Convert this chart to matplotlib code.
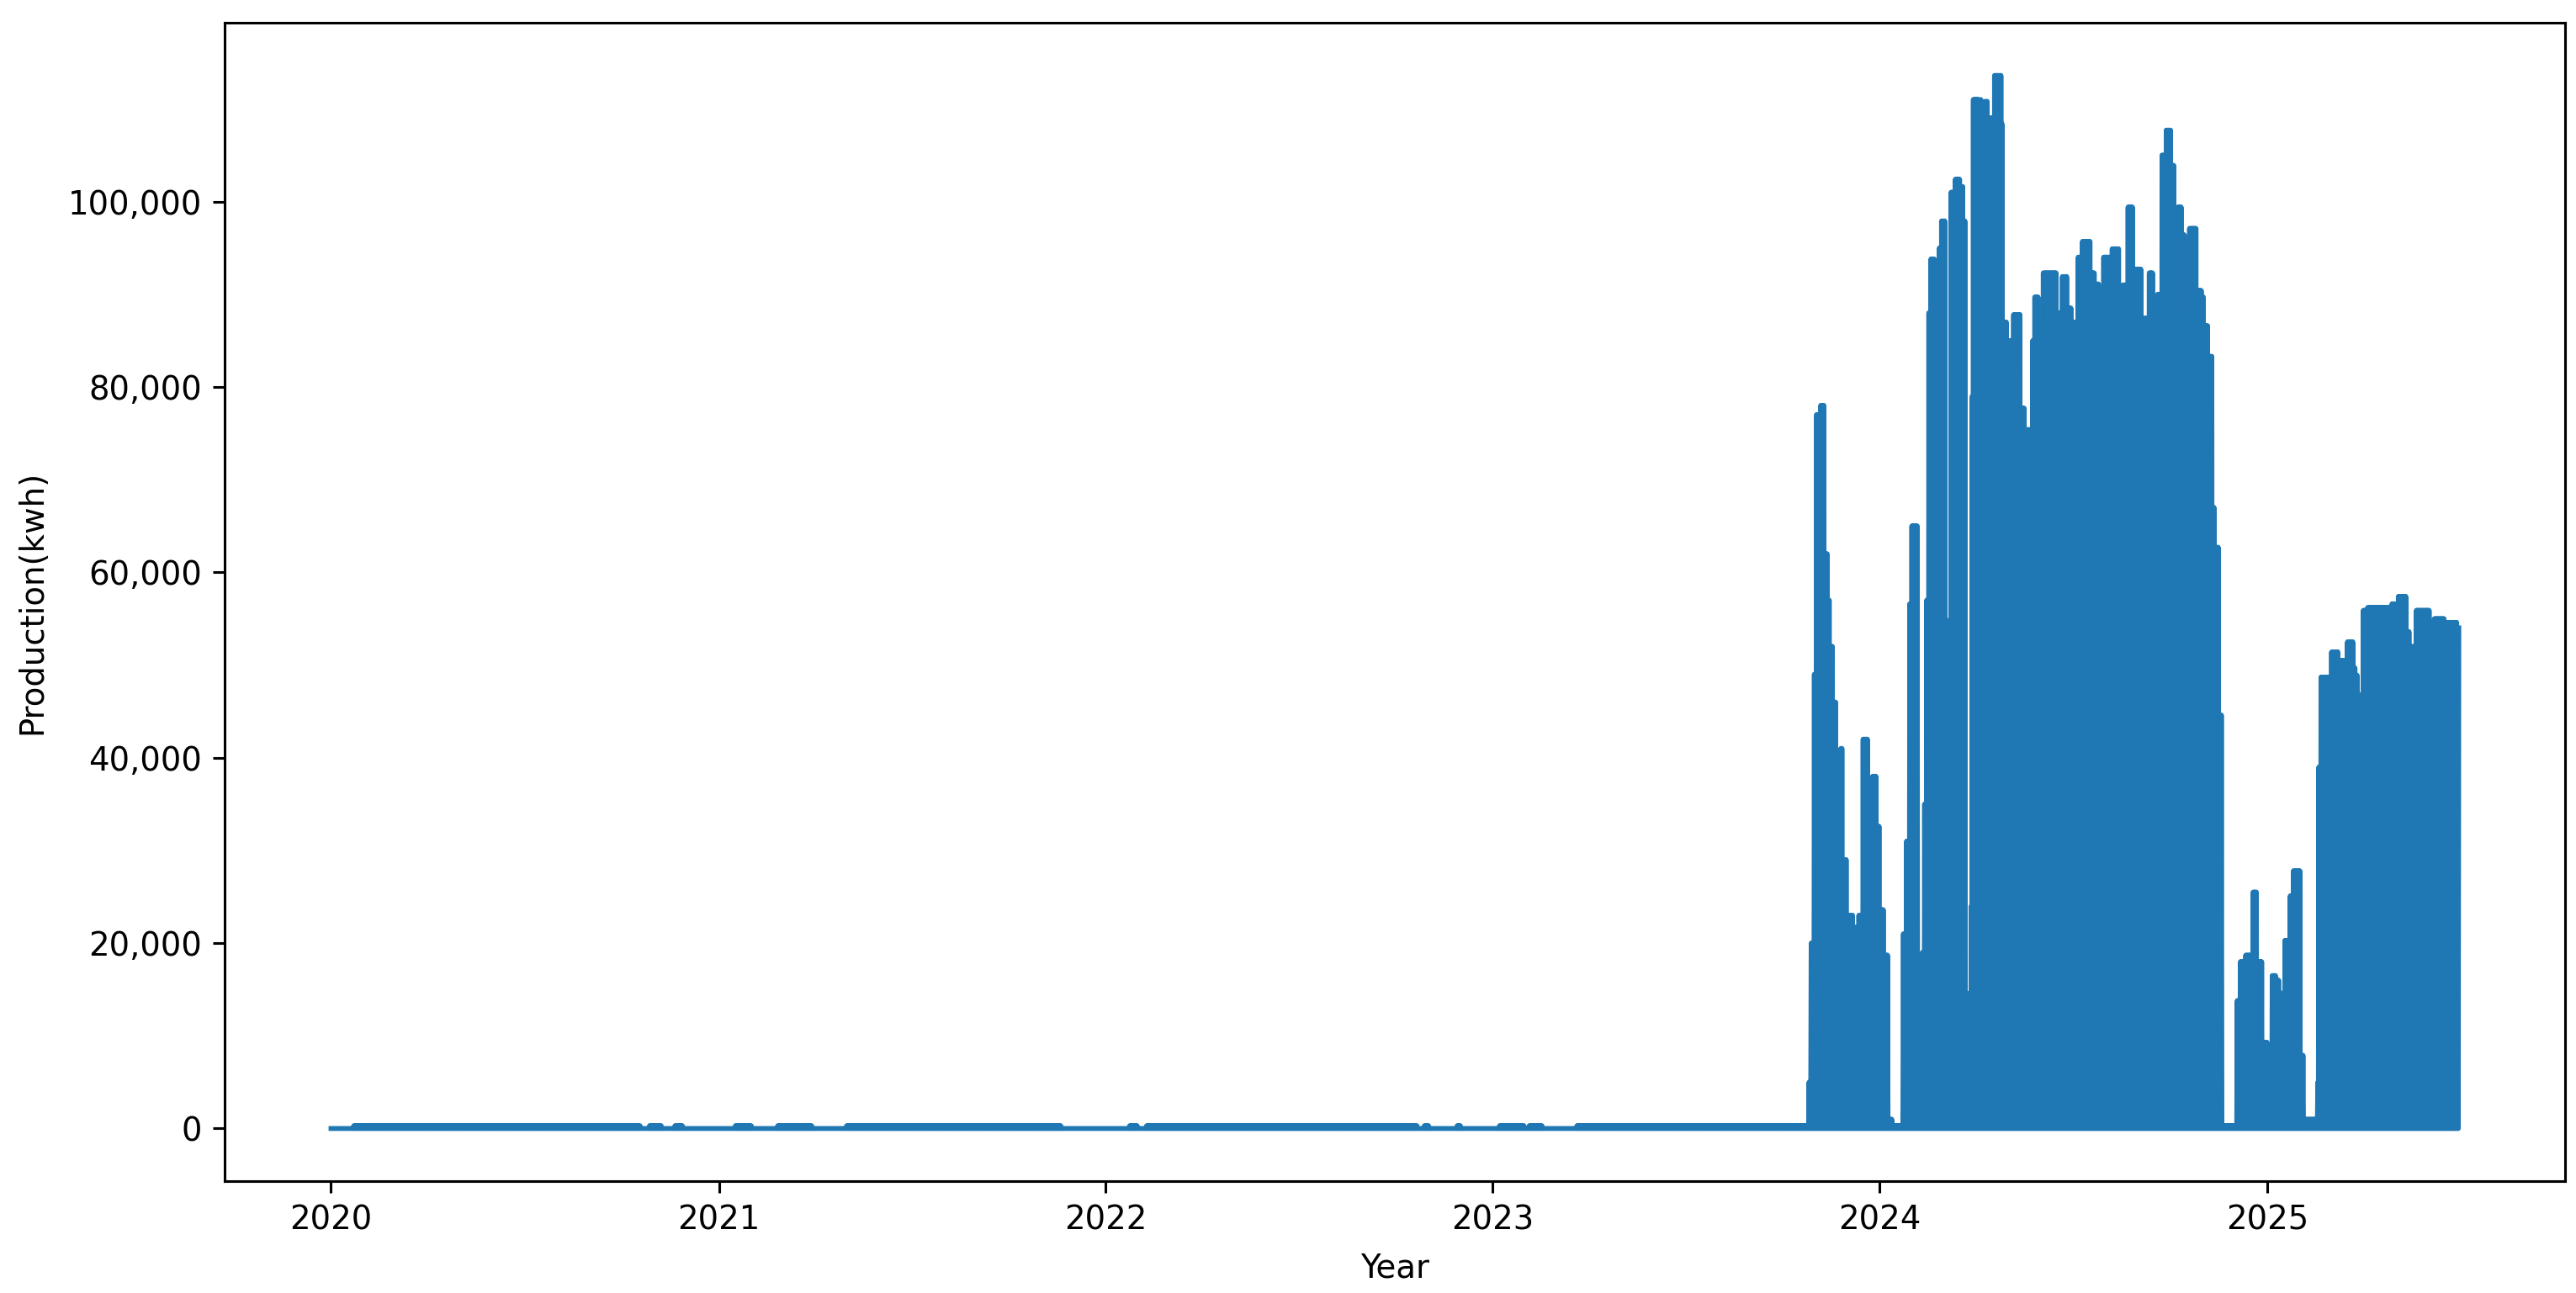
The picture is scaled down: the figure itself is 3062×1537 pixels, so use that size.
import numpy as np
import pandas as pd
import matplotlib
matplotlib.use("Agg")
import matplotlib.pyplot as plt
import matplotlib.dates as mdates
from matplotlib.ticker import StrMethodFormatter

# Daily peak production (kwh), read off the chart as steps:
# each value holds from its date until the next date
step_dates = [
    # 2020 - 2023: tiny output only
    "2020-01-01", "2020-01-22", "2020-10-19", "2020-10-27", "2020-11-08",
    "2020-11-20", "2020-11-28", "2021-01-16", "2021-02-01", "2021-02-25",
    "2021-03-30", "2021-05-01", "2021-11-20", "2022-01-23", "2022-01-31",
    "2022-02-08", "2022-10-22", "2022-10-28", "2022-11-02", "2022-11-28",
    "2022-12-02", "2023-01-07", "2023-01-31", "2023-02-04", "2023-02-17",
    "2023-03-21",
    # late 2023
    "2023-10-26", "2023-10-28", "2023-10-31", "2023-11-02", "2023-11-06",
    "2023-11-10", "2023-11-13", "2023-11-15", "2023-11-18", "2023-11-21",
    "2023-11-25", "2023-11-27", "2023-12-01", "2023-12-07", "2023-12-11",
    "2023-12-12", "2023-12-16", "2023-12-21", "2023-12-25", "2023-12-29",
    # 2024
    "2024-01-01", "2024-01-05", "2024-01-09", "2024-01-13", "2024-01-23",
    "2024-01-26", "2024-01-29", "2024-01-31", "2024-02-06", "2024-02-10",
    "2024-02-12", "2024-02-14", "2024-02-16", "2024-02-18", "2024-02-22",
    "2024-02-26", "2024-02-28", "2024-03-03", "2024-03-05", "2024-03-08",
    "2024-03-12", "2024-03-17", "2024-03-20", "2024-03-22", "2024-03-25",
    "2024-03-27", "2024-03-28", "2024-03-29", "2024-04-04", "2024-04-05",
    "2024-04-06", "2024-04-09", "2024-04-12", "2024-04-18", "2024-04-25",
    "2024-04-26", "2024-04-30", "2024-05-06", "2024-05-13", "2024-05-17",
    "2024-05-24", "2024-05-26", "2024-05-30", "2024-06-03", "2024-06-16",
    "2024-06-17", "2024-06-21", "2024-06-26", "2024-06-30", "2024-07-06",
    "2024-07-10", "2024-07-18", "2024-07-22", "2024-07-26", "2024-07-30",
    "2024-08-07", "2024-08-14", "2024-08-17", "2024-08-22", "2024-08-27",
    "2024-09-04", "2024-09-11", "2024-09-15", "2024-09-19", "2024-09-23",
    "2024-09-27", "2024-10-02", "2024-10-05", "2024-10-08", "2024-10-12",
    "2024-10-15", "2024-10-19", "2024-10-26", "2024-10-31", "2024-11-02",
    "2024-11-06", "2024-11-10", "2024-11-12", "2024-11-16", "2024-11-19",
    "2024-12-03", "2024-12-06", "2024-12-11", "2024-12-18", "2024-12-22",
    "2024-12-27",
    # 2025
    "2025-01-01", "2025-01-05", "2025-01-09", "2025-01-12", "2025-01-17",
    "2025-01-22", "2025-01-25", "2025-02-01", "2025-02-04", "2025-02-17",
    "2025-02-18", "2025-02-20", "2025-02-28", "2025-03-02", "2025-03-09",
    "2025-03-17", "2025-03-23", "2025-03-25", "2025-03-27", "2025-03-28",
    "2025-04-01", "2025-04-05", "2025-04-28", "2025-05-04", "2025-05-12",
    "2025-05-15", "2025-05-17", "2025-05-21", "2025-06-03", "2025-06-07",
    "2025-06-17", "2025-06-29",
]

step_peaks = [
    0, 300, 0, 300, 0,
    300, 0, 300, 0, 300,
    0, 300, 0, 300, 0,
    300, 0, 300, 0, 300,
    0, 300, 0, 300, 0,
    300,
    5000, 20000, 49000, 77000, 78000,
    62000, 57000, 52000, 46000, 40000,
    41000, 29000, 23000, 21700, 15700,
    23000, 42000, 36000, 38000, 32600,
    23600, 18700, 1000, 300, 21000,
    31000, 56600, 65000, 300, 19000,
    35000, 57000, 88000, 93800, 93400,
    95000, 97900, 300, 54800, 101000,
    102400, 101600, 97900, 300, 14600,
    24000, 79000, 111000, 74000, 111000,
    106900, 110800, 109000, 113600, 108400,
    87000, 85000, 87800, 77700, 75400,
    85000, 89700, 86600, 92300, 82900,
    88000, 91900, 88500, 87000, 94000,
    95700, 92300, 91100, 90400, 94000,
    94900, 87800, 91000, 99400, 92700,
    87400, 92300, 88000, 90000, 105000,
    107700, 103900, 97900, 99400, 96400,
    87800, 97100, 90400, 89700, 86600,
    83300, 67000, 62700, 44600, 300,
    13800, 18000, 18700, 25500, 18000,
    9300,
    300, 16500, 16000, 14600, 20300,
    25100, 27800, 7900, 1000, 5000,
    39000, 48700, 47600, 51400, 50500,
    52500, 49700, 48900, 24000, 46800,
    55900, 56200, 56600, 57400, 53600,
    50500, 52000, 55900, 54000, 55000,
    54600, 54000,
]

first_day = "2020-01-01"
last_day = "2025-06-30"

# expand the steps to a day/night series: 0 at midnight, peak at noon
days = pd.date_range(first_day, last_day, freq="D")
steps = pd.to_datetime(step_dates)
idx = np.searchsorted(steps.values, days.values, side="right") - 1
peak = np.asarray(step_peaks, dtype=float)[idx]

times = np.empty(2 * len(days), dtype="datetime64[ns]")
times[0::2] = days.values
times[1::2] = (days + pd.Timedelta(hours=12)).values
values = np.empty(2 * len(days))
values[0::2] = 0
values[1::2] = peak

fig, ax = plt.subplots(figsize=(3062 / 278, 1537 / 278), dpi=278)
ax.plot(times, values, color="#1f77b4", linewidth=1.5)

ax.xaxis.set_major_locator(mdates.YearLocator())
ax.xaxis.set_major_formatter(mdates.DateFormatter("%Y"))
ax.yaxis.set_major_formatter(StrMethodFormatter("{x:,.0f}"))

ax.set_xlabel("Year", labelpad=5)
ax.set_ylabel("Production(kwh)", labelpad=6)

fig.subplots_adjust(left=0.0872, right=0.9958, bottom=0.0865, top=0.9824)
fig.savefig("out.png", dpi=278)
